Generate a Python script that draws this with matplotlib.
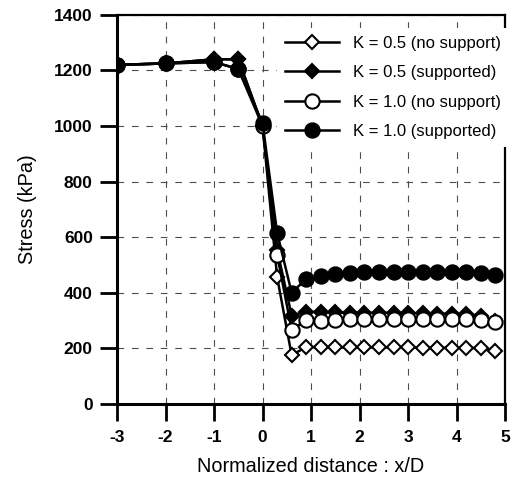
import matplotlib
matplotlib.use("Agg")
import matplotlib.pyplot as plt

plt.rcParams["font.family"] = ["Liberation Sans", "DejaVu Sans"]

# normalized distance x/D
x_vals = [-3, -2, -1, -0.5, 0, 0.3, 0.6, 0.9, 1.2, 1.5, 1.8, 2.1, 2.4, 2.7,
          3.0, 3.3, 3.6, 3.9, 4.2, 4.5, 4.8]

# stress (kPa)
k05_nosup = [1220, 1225, 1240, 1240, 1000, 457, 175, 205, 203, 203, 203, 203,
             203, 203, 203, 202, 202, 202, 202, 200, 192]
k05_sup = [1220, 1225, 1240, 1240, 1000, 555, 318, 332, 330, 330, 328, 328,
           328, 328, 326, 326, 325, 324, 322, 318, 298]
k10_nosup = [1220, 1225, 1230, 1205, 1000, 537, 266, 302, 300, 303, 305, 306,
             306, 306, 306, 306, 305, 305, 304, 302, 296]
k10_sup = [1220, 1225, 1230, 1205, 1010, 616, 400, 450, 462, 468, 472, 474,
           474, 474, 474, 474, 474, 474, 473, 472, 465]

series = [
    ("K = 0.5 (no support)", k05_nosup, "D", "white"),
    ("K = 0.5 (supported)", k05_sup, "D", "black"),
    ("K = 1.0 (no support)", k10_nosup, "o", "white"),
    ("K = 1.0 (supported)", k10_sup, "o", "black"),
]

x_ticks = [-3, -2, -1, 0, 1, 2, 3, 4, 5]
y_ticks = [0, 200, 400, 600, 800, 1000, 1200, 1400]

fig = plt.figure(figsize=(5.18, 4.78), dpi=100)
ax = fig.add_axes([0.226, 0.155, 0.749, 0.814])

for label, vals, marker, face in series:
    ms = 7.2 if marker == "D" else 10.3
    ax.plot(x_vals, vals, color="black", lw=1.8, marker=marker, ms=ms,
            mfc=face, mec="black", mew=1.5, label=label, zorder=3)

ax.set_xlim(-3, 5)
ax.set_ylim(0, 1400)
ax.set_xticks(x_ticks)
ax.set_yticks(y_ticks)
ax.set_xticklabels([str(t) for t in x_ticks], fontweight="bold", fontsize=12.5)
ax.set_yticklabels([str(t) for t in y_ticks], fontweight="bold", fontsize=12.5)
ax.tick_params(axis="both", direction="out", length=12.5, width=2)
ax.tick_params(axis="x", pad=6)
ax.tick_params(axis="y", pad=5)

ax.grid(True, color="0.3", lw=0.8, linestyle=(0, (6, 7)), zorder=0)

for side in ["left", "bottom"]:
    ax.spines[side].set_linewidth(2.2)
for side in ["top", "right"]:
    ax.spines[side].set_linewidth(1.6)

ax.set_xlabel("Normalized distance : x/D", fontsize=14.3, labelpad=9)
ax.set_ylabel("Stress (kPa)", fontsize=14.3, labelpad=12)

# legend sits on a white patch that hides the grid behind it
leg = ax.legend(loc="upper left", bbox_to_anchor=(0.412, 0.967), frameon=True,
                fontsize=12, handlelength=3.2, labelspacing=0.86,
                borderaxespad=0, borderpad=0.5, handletextpad=0.85,
                fancybox=False)
leg.get_frame().set_facecolor("white")
leg.get_frame().set_edgecolor("none")
leg.get_frame().set_alpha(1.0)

fig.savefig("out.png", dpi=100)
